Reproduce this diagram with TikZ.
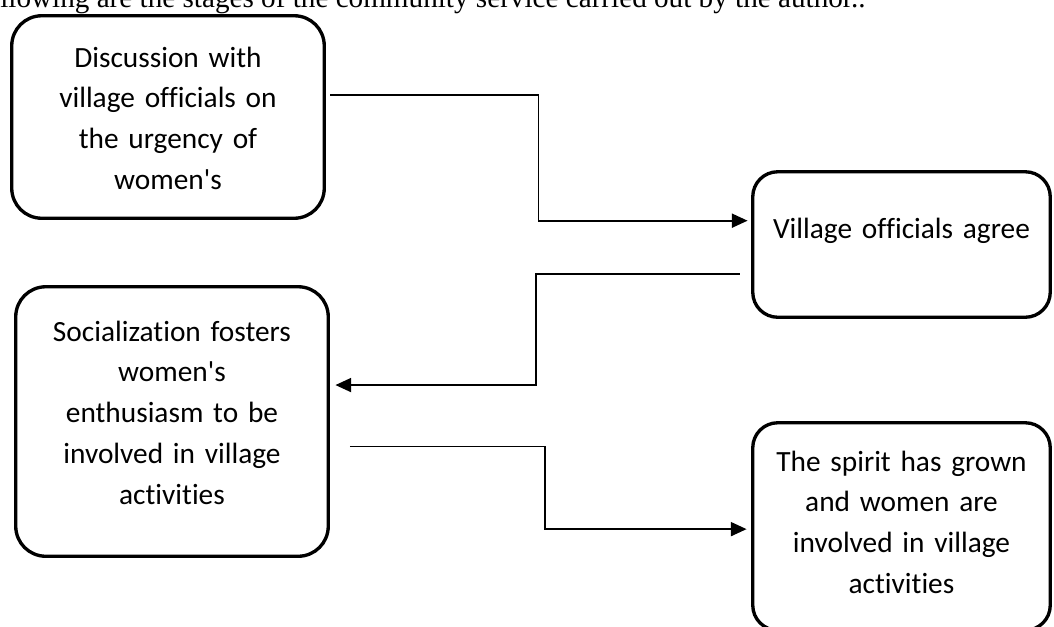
\documentclass[tikz,border=0pt]{standalone}
\usepackage{fontspec}
\usepackage{tikz}
\usetikzlibrary{positioning,arrows.meta,calc}
\newfontfamily\stagefont{Carlito}[Ligatures={TeXOff,CommonOff}]
\newfontfamily\introfont{Liberation Serif}
\tikzset{
    stage/.style = {
        draw,
        shape=rectangle,
        rounded corners=0.6cm,
        minimum width=6.25cm,
        line width=1.9pt,
        text width=5.3cm,
        align=center,
        text height=0.4cm,
        font=\stagefont\fontsize{16.7pt}{23.3pt}\selectfont
    },
    link/.style = {
        draw,
        line width=1.1pt,
        ->
    },
    >={Triangle[length=9pt, width=8pt]},
}
\begin{document}
\begin{tikzpicture}
    \useasboundingbox (0,0) rectangle (21.08,-12.52);

    \node[anchor=base west, inner sep=0, font=\introfont\fontsize{16.6pt}{20pt}\selectfont]
        (intro) at (0,-0.15) {llowing are the stages of the community service carried out by the author..};

    \node[stage, minimum height=4.05cm, text depth=2.4cm] (disc) at (3.36,-2.34)
        {Discussion with\\village officials on\\the urgency of\\women's};
    \node[stage, minimum height=5.39cm, text depth=3.62cm] (social) at (3.44,-8.43)
        {Socialization fosters\\women's\\enthusiasm to be\\involved in village\\activities};
    \node[stage, rounded corners=0.5cm, minimum width=5.95cm, minimum height=2.91cm,
        text depth=0.66cm] (agree) at (18.03,-4.89) {Village officials agree};
    \node[stage, rounded corners=0.5cm, minimum width=5.95cm, minimum height=4.15cm,
        text depth=2.62cm] (spirit) at (18.03,-10.53)
        {The spirit has grown\\and women are\\involved in village\\activities};

    \path[link, shorten <=0.09cm, shorten >=0.07cm] (disc.8) -|
        ($(disc.8)!0.5!(agree.171)$) |- (agree.171);
    \path[link, shorten <=0.23cm, shorten >=0.11cm] (agree.191) -|
        ($(agree.191)!0.51!(social.13)$) |- (social.13);
    \path[link, shorten <=0.4cm, shorten >=0.09cm] (social.351) -|
        ($(social.351)!0.51!(spirit.181)$) |- (spirit.181);
\end{tikzpicture}
\end{document}
